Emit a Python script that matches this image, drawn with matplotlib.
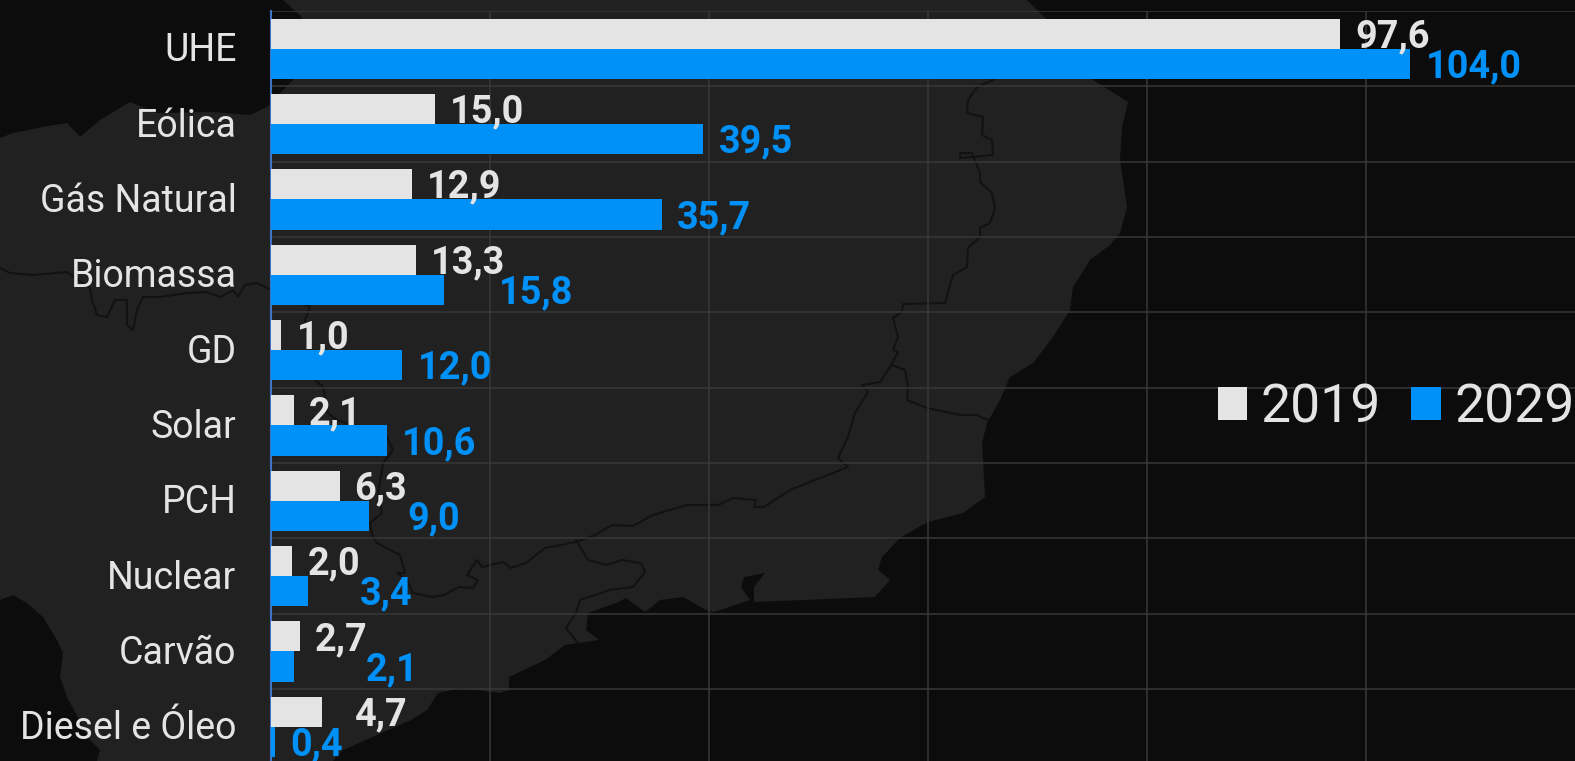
import matplotlib
matplotlib.use('Agg')
import matplotlib.pyplot as plt
from matplotlib.patches import Polygon
from matplotlib.transforms import ScaledTranslation

categories = ['UHE', 'Eólica', 'Gás Natural', 'Biomassa', 'GD', 'Solar', 'PCH', 'Nuclear', 'Carvão', 'Diesel e Óleo']
valores_2019 = [97.6, 15.0, 12.9, 13.3, 1.0, 2.1, 6.3, 2.0, 2.7, 4.7]
valores_2029 = [104.0, 39.5, 35.7, 15.8, 12.0, 10.6, 9.0, 3.4, 2.1, 0.4]

# deslocamento dos rotulos, em pixels a partir do fim da barra
desloc_2019 = [15, 15, 15, 15, 15, 15, 15, 15, 15, 33]
desloc_2029 = [16, 15, 15, 55, 16, 15, 38, 52, 72, 15]

COR_2019 = '#e4e4e4'
COR_2029 = '#0091f8'
COR_GRID = '#383838'
COR_TERRA = '#212121'
COR_MAR = '#0c0c0c'
COR_DIVISA = '#121212'

# contornos do mapa de fundo, em pixels da figura (y a partir do topo)
terra = [(283, 0), (1027, 0), (1045, 18), (1093, 80), (1128, 102), (1122, 127), (1120, 160), (1127, 207),
         (1120, 233), (1110, 245), (1090, 260), (1073, 287), (1070, 310), (1053, 337), (1033, 363),
         (1010, 377), (1000, 400), (987, 423), (982, 443), (985, 497), (963, 513), (928, 522), (901, 537),
         (882, 557), (878, 570), (890, 580), (875, 597), (802, 600), (754, 602), (754, 587), (765, 573),
         (744, 577), (741, 587), (750, 600), (714, 612), (706, 610), (683, 597), (660, 600), (645, 612),
         (626, 598), (616, 603), (588, 613), (586, 630), (599, 640), (565, 645), (545, 660), (509, 677),
         (509, 690), (500, 693), (461, 688), (438, 693), (427, 710), (411, 720), (343, 750), (333, 761),
         (97, 761), (100, 750), (90, 740), (67, 697), (60, 677), (63, 653), (57, 640), (43, 617), (27, 603),
         (13, 595), (0, 600), (0, 138), (13, 133), (43, 127), (67, 123), (80, 137), (100, 120), (130, 102),
         (157, 113), (213, 112), (250, 115), (267, 107), (293, 80), (302, 17)]

divisa_leste = [(993, 80), (977, 87), (968, 100), (967, 113), (983, 117), (982, 135), (992, 140), (993, 155),
                (973, 157), (960, 158), (960, 153), (972, 153), (980, 173), (980, 182), (992, 193), (995, 208),
                (990, 223), (980, 228), (980, 237), (968, 248), (967, 267), (953, 275), (945, 303), (903, 304),
                (902, 312), (893, 318), (898, 337), (893, 350), (898, 352), (890, 367), (880, 382), (862, 385),
                (868, 392), (855, 413), (848, 437), (838, 458), (848, 467), (790, 490), (764, 507), (754, 507),
                (756, 500), (733, 498), (718, 505), (687, 505), (653, 515), (633, 526), (612, 525), (595, 535),
                (576, 542), (545, 548), (526, 563), (511, 568), (503, 562), (482, 567), (477, 560), (467, 575),
                (478, 580), (473, 588), (459, 587), (444, 595), (432, 597), (413, 593)]
divisa_rio = [(892, 365), (905, 370), (908, 387), (907, 400), (927, 408), (960, 415), (977, 415), (988, 420)]
divisa_sp = [(576, 540), (588, 560), (607, 565), (622, 560), (641, 563), (645, 572), (633, 587), (610, 590),
             (580, 600), (576, 613), (566, 628), (578, 643)]
divisa_oeste = [(0, 268), (10, 273), (33, 275), (67, 272), (90, 288), (92, 300), (97, 315), (107, 317), (115, 300),
                (127, 300), (127, 325), (133, 330), (137, 310), (143, 297), (160, 297), (187, 293), (207, 292),
                (220, 297), (233, 290), (238, 297), (245, 285), (257, 283), (267, 288), (310, 307), (305, 320),
                (315, 380), (323, 387), (328, 413), (337, 420), (387, 437), (393, 450), (383, 463), (378, 493),
                (382, 513), (370, 523), (372, 535), (377, 543), (400, 555), (405, 573), (397, 573), (407, 580),
                (413, 593)]

fig = plt.figure(figsize=(15.75, 7.61), dpi=100, facecolor=COR_MAR)
plt.rcParams['font.family'] = ['Roboto', 'DejaVu Sans']


def px(pontos):
    return [(x / 1575, 1 - y / 761) for x, y in pontos]


fig.add_artist(Polygon(px(terra), closed=True, transform=fig.transFigure, facecolor=COR_TERRA, edgecolor='none', zorder=-5))
for linha in [divisa_leste, divisa_rio, divisa_sp, divisa_oeste]:
    xs, ys = zip(*px(linha))
    fig.add_artist(plt.Line2D(xs, ys, transform=fig.transFigure, color=COR_DIVISA, lw=1.5, zorder=-4))

ax = fig.add_axes([270.5 / 1575, 0, 1 - 270.5 / 1575, 750 / 761])
ax.patch.set_alpha(0)

y = list(range(len(categories)))
altura = 0.4
barras_2019 = ax.barh([i - altura / 2 for i in y], valores_2019, height=altura, color=COR_2019, label='2019', zorder=3)
barras_2029 = ax.barh([i + altura / 2 for i in y], valores_2029, height=altura, color=COR_2029, label='2029', zorder=3)

ax.set_xticks(range(20, 120, 20))
ax.set_yticks(y)
ax.set_yticklabels(categories, fontsize=27, color='#e4e4e4')
ax.set_yticks([i - 0.5 for i in range(len(categories) + 1)], minor=True)
ax.tick_params(axis='both', which='both', length=0)
ax.tick_params(axis='x', labelbottom=False)
ax.tick_params(axis='y', which='major', pad=24.5)
ax.grid(True, axis='x', color=COR_GRID, lw=1.1, zorder=1)
ax.grid(True, axis='y', which='minor', color=COR_GRID, lw=1.1, zorder=1)
ax.grid(False, axis='y', which='major')

# sobe os nomes das categorias 2 px
for rotulo in ax.get_yticklabels():
    rotulo.set_transform(rotulo.get_transform() + ScaledTranslation(0, 0.02, fig.dpi_scale_trans))

# depois dos ticks, senao os ticks menores alargam os limites
ax.set_xlim(0, 119.03)
ax.set_ylim(9.454, -0.5)

for lado in ['top', 'right', 'bottom']:
    ax.spines[lado].set_visible(False)
ax.spines['left'].set_color('#3f74c4')
ax.spines['left'].set_linewidth(1.5)

for i in y:
    ax.annotate(f'{valores_2019[i]:.1f}'.replace('.', ','), (valores_2019[i], i - altura / 2),
                xytext=(desloc_2019[i] * 0.72, 0.7), textcoords='offset points', va='center_baseline',
                fontsize=27.3, fontweight='bold', color=COR_2019, zorder=5)
    ax.annotate(f'{valores_2029[i]:.1f}'.replace('.', ','), (valores_2029[i], i + altura / 2),
                xytext=(desloc_2029[i] * 0.72, 0.7), textcoords='offset points', va='center_baseline',
                fontsize=27.3, fontweight='bold', color=COR_2029, zorder=5)

leg = ax.legend(handles=[barras_2019, barras_2029], ncol=2, frameon=False, fontsize=38.5,
                loc='center right', bbox_to_anchor=(1.0, 0.4707),
                handlelength=0.55, handleheight=0.55, handletextpad=0.26, columnspacing=0.56,
                labelcolor='#e4e4e4', borderpad=0, borderaxespad=0)

fig.savefig('out.png', dpi=100, facecolor=fig.get_facecolor())
